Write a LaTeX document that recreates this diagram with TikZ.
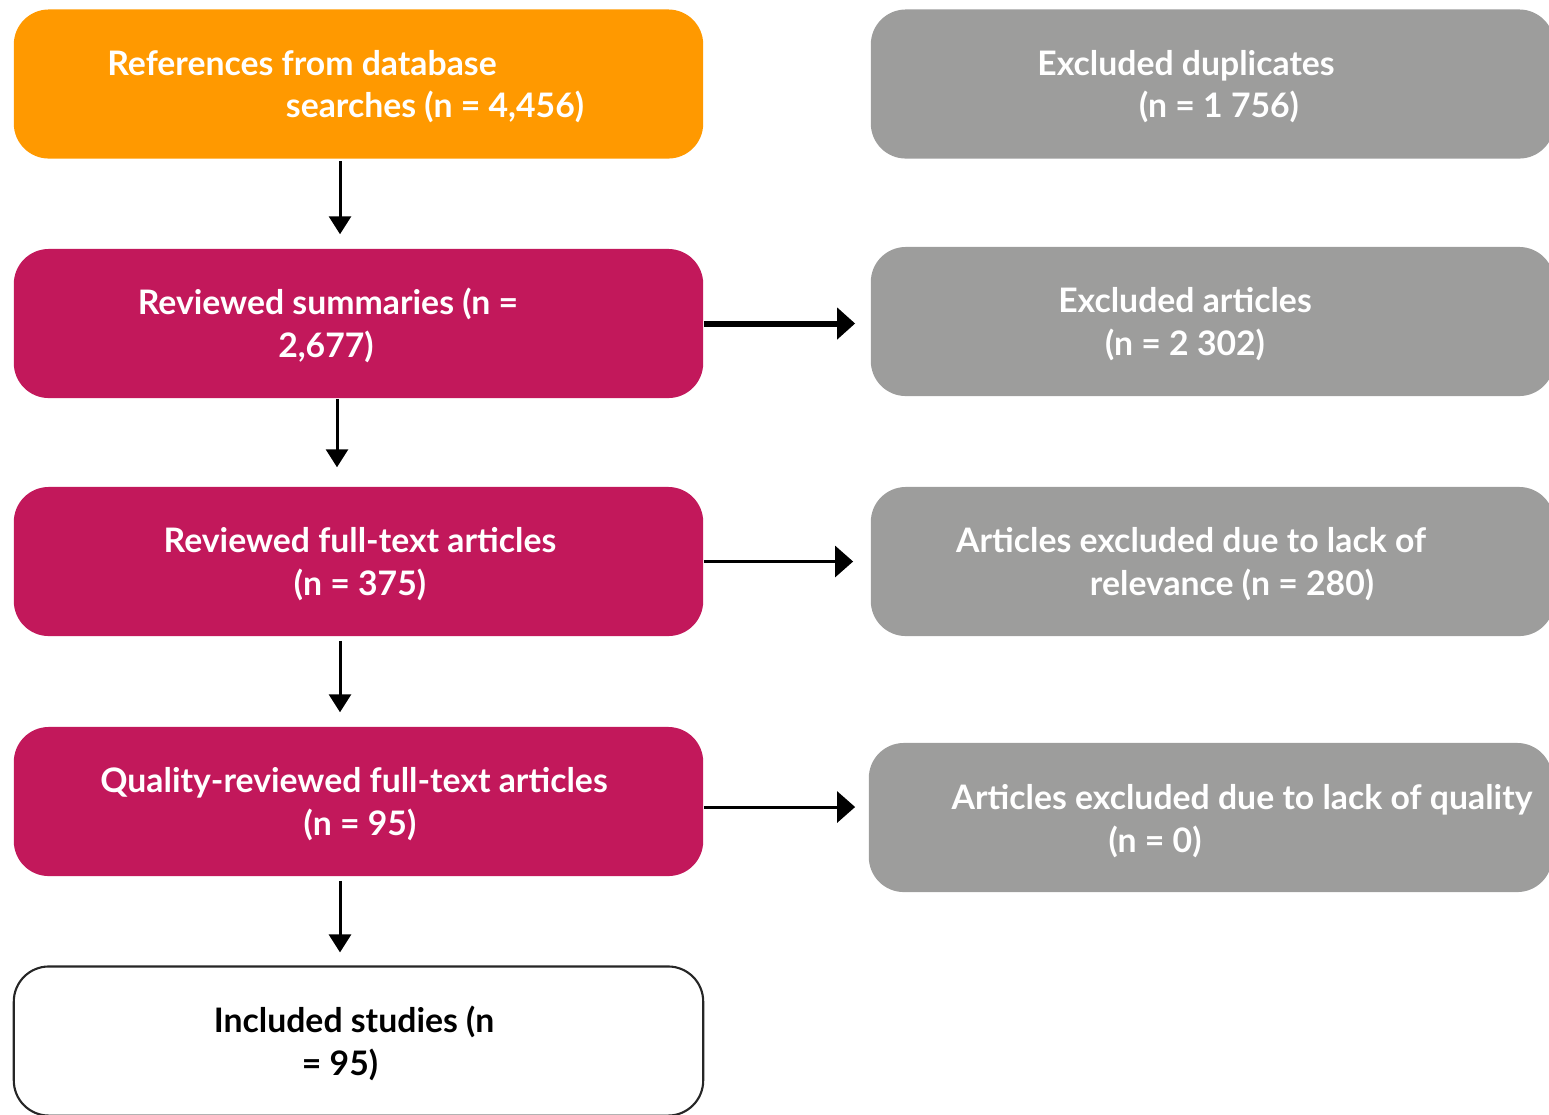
\documentclass[tikz,border=0pt]{standalone}
\usepackage{fontspec}
\setmainfont{Lato}
\usetikzlibrary{positioning,arrows.meta,calc}

\definecolor{srcorange}{HTML}{FF9900}
\definecolor{stagepink}{HTML}{C2185B}
\definecolor{exclgrey}{HTML}{9D9D9C}

\tikzset{
	box/.style={rectangle, rounded corners=0.35cm, minimum width=6.89cm,
		minimum height=1.49cm, inner sep=0pt},
	srcbox/.style={box, fill=srcorange},
	stagebox/.style={box, fill=stagepink},
	exclbox/.style={box, fill=exclgrey, minimum width=6.83cm},
	finalbox/.style={box, draw=black!85, line width=0.6pt, fill=white},
	txt/.style={anchor=base, inner sep=0pt, text=white,
		font=\fontsize{9.6}{11}\selectfont\bfseries},
	vflow/.style={-{Triangle[length=0.18cm,width=0.22cm]}, line width=0.85pt},
	hflow/.style={-{Triangle[length=0.18cm,width=0.31cm]}, line width=0.85pt},
}

\begin{document}
\begin{tikzpicture}[x=0.01cm, y=-0.01cm]
	\useasboundingbox (0,0) rectangle (1549,1114);
	\clip (0,0) rectangle (1549,1114);

	% left column
	\node[srcbox] (S1) at (358.5,84) {};
	\node[stagebox] (S2) at (358.5,323.5) {};
	\node[stagebox] (S3) at (358.5,561.5) {};
	\node[stagebox] (S4) at (358.5,801.5) {};
	\node[finalbox] (S5) at (358.5,1041) {};

	% right column
	\node[exclbox] (E1) at (1212.5,84) {};
	\node[exclbox] (E2) at (1212.5,321.5) {};
	\node[exclbox] (E3) at (1212.5,561.5) {};
	\node[exclbox] (E4) at (1210.5,817.5) {};

	% texts
	\node[txt] (S1a) at (302,75) {References from database};
	\node[txt] (S1b) at (435,117) {searches (n = 4,456)};
	\node[txt] (S2a) at (328,314) {Reviewed summaries (n =};
	\node[txt] (S2b) at (326,357) {2,677)};
	\node[txt] (S3a) at (360,552) {Reviewed full-text articles};
	\node[txt] (S3b) at (360,595) {(n = 375)};
	\node[txt] (S4a) at (354,792) {Quality-reviewed full-text articles};
	\node[txt] (S4b) at (360,835) {(n = 95)};
	\node[txt, text=black] (S5a) at (354,1032) {Included studies (n};
	\node[txt, text=black] (S5b) at (340,1075) {= 95)};

	\node[txt] (E1a) at (1186,75) {Excluded duplicates};
	\node[txt] (E1b) at (1219,117) {(n = 1 756)};
	\node[txt] (E2a) at (1185,312) {Excluded articles};
	\node[txt] (E2b) at (1185,355) {(n = 2 302)};
	\node[txt] (E3a) at (1191,552) {Articles excluded due to lack of};
	\node[txt] (E3b) at (1232,595) {relevance (n = 280)};
	\node[txt] (E4a) at (1242,809) {Articles excluded due to lack of quality};
	\node[txt] (E4b) at (1155,852) {(n = 0)};

	% arrows down
	\draw[vflow] ($(S1.south)+(-18.5,2)$) -- ($(S2.north)+(-18.5,-14)$);
	\draw[vflow] ($(S2.south)+(-21.5,0)$) -- ($(S3.north)+(-21.5,-19)$);
	\draw[vflow] ($(S3.south)+(-18.5,4)$) -- ($(S4.north)+(-18.5,-14)$);
	\draw[vflow] ($(S4.south)+(-18.5,4)$) -- ($(S5.north)+(-18.5,-13)$);

	% arrows right
	\draw[hflow, line width=1.7pt] (S2.east) -- ($(E2.west |- S2.east)+(-15,0)$);
	\draw[hflow] (S3.east) -- ($(E3.west |- S3.east)+(-17,0)$);
	\draw[hflow] ($(S4.east)+(0,5.5)$) -- ($(E4.west |- S4.east)+(-13,5.5)$);
\end{tikzpicture}
\end{document}
